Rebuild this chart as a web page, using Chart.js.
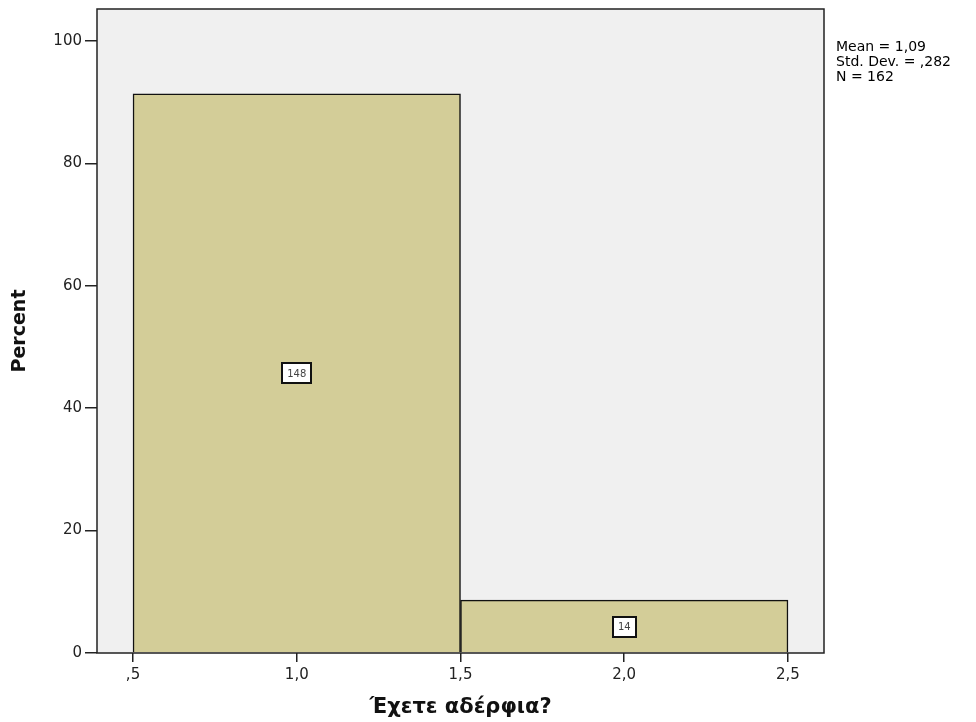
<!DOCTYPE html>
<html><head><meta charset="utf-8">
<script src="https://cdn.jsdelivr.net/npm/chart.js@4"></script>
<style>html,body{margin:0;padding:0;background:#fff}#wrap{width:976px;height:722px}</style>
</head><body><div id="wrap"><canvas id="c" width="976" height="722"></canvas></div>
<script>
const binCenters = [1.0, 2.0];
const binEdges = [0.5, 1.5, 2.5];
const counts = [148, 14];
const percents = [91.36, 8.64];
const xTicks = [0.5, 1.0, 1.5, 2.0, 2.5];
const yTicks = [0, 20, 40, 60, 80, 100];
const statsLines = ["Mean = 1,09", "Std. Dev. = ,282", "N = 162"];
const xTitle = "Έχετε αδέρφια?";
const yTitle = "Percent";

const FONT = '"DejaVu Sans", Verdana, sans-serif';
const X_MIN = 0.39, X_MAX = 2.61;

function fmt(v){
  let s = Number(v).toFixed(1).replace('.', ',');
  if (s.startsWith('0,')) s = s.slice(1);
  return s;
}

const frame = {
  id: 'frame',
  beforeDraw(chart){
    const {ctx, chartArea:a} = chart;
    ctx.save();
    ctx.fillStyle = '#f0f0f0';
    ctx.fillRect(a.left, a.top, a.right-a.left, a.bottom-a.top);
    ctx.restore();
  },
  afterDatasetsDraw(chart){
    const {ctx, chartArea:a, scales} = chart;
    ctx.save();
    ctx.strokeStyle = '#222'; ctx.lineWidth = 1.5;
    ctx.strokeRect(a.left, a.top, a.right-a.left, a.bottom-a.top);
    // count labels
    ctx.font = '10px ' + FONT;
    ctx.textAlign = 'center'; ctx.textBaseline = 'middle';
    binCenters.forEach((x,i)=>{
      const px = scales.x.getPixelForValue(x);
      const py = scales.y.getPixelForValue(percents[i]/2);
      const t = String(counts[i]);
      const w = Math.round(ctx.measureText(t).width + 10), h = 20;
      const bx = Math.round(px - w/2), by = Math.round(py - h/2);
      ctx.fillStyle = '#fff';
      ctx.fillRect(bx, by, w, h);
      ctx.strokeStyle = '#111'; ctx.lineWidth = 2;
      ctx.strokeRect(bx, by, w, h);
      ctx.fillStyle = '#444';
      ctx.fillText(t, px, py+1);
    });
    // stats
    ctx.font = '14px ' + FONT;
    ctx.textAlign = 'left'; ctx.textBaseline = 'middle'; ctx.fillStyle = '#000';
    statsLines.forEach((s,i)=> ctx.fillText(s, a.right + 12, 47 + i*15));
    ctx.restore();
  }
};

new Chart(document.getElementById('c'), {
  type: 'bar',
  data: {
    datasets: [{
      xAxisID: 'xb',
      data: binCenters.map((x,i)=>({x, y: percents[i]})),
      backgroundColor: '#d3cd98',
      borderColor: '#111',
      borderWidth: 1.5,
      barPercentage: 1.0,
      categoryPercentage: 1.0
    }]
  },
  options: {
    responsive: false,
    animation: false,
    layout: { padding: { left: 0, right: 152, top: 0, bottom: 0 } },
    plugins: { legend: { display: false }, tooltip: { enabled: false } },
    scales: {
      xb: {
        type: 'linear', position: 'bottom', display: false, min: X_MIN, max: X_MAX, offset: false,
        afterBuildTicks(s){ s.ticks = binEdges.map(v=>({value:v})); }
      },
      x: {
        type: 'linear', position: 'bottom', min: X_MIN, max: X_MAX, offset: false,
        afterBuildTicks(s){ s.ticks = xTicks.map(v=>({value:v})); },
        afterFit(s){ s.height = 69; },
        ticks: { callback: v => fmt(v), color: '#222', font: { size: 15, family: FONT }, padding: 4, maxRotation: 0, autoSkip: false },
        grid: { offset: false, drawOnChartArea: false, drawTicks: true, tickLength: 9, lineWidth: 1.5, color: '#222', tickColor: '#222' },
        border: { display: false },
        title: { display: true, text: xTitle, color: '#111', font: { size: 21, weight: 'bold', family: FONT }, padding: { top: 0, bottom: 2 } }
      },
      y: {
        min: 0, max: 105.2,
        afterBuildTicks(s){ s.ticks = yTicks.map(v=>({value:v})); },
        afterFit(s){ s.width = 97; },
        ticks: { color: '#222', font: { size: 15, family: FONT, lineHeight: 0.8 }, padding: 3 },
        grid: { drawOnChartArea: false, drawTicks: true, tickLength: 12, lineWidth: 1.5, color: '#222', tickColor: '#222' },
        border: { display: false },
        title: { display: true, text: yTitle, color: '#111', font: { size: 19, weight: 'bold', family: FONT }, padding: { top: 9, bottom: 0 } }
      }
    }
  },
  plugins: [frame]
});
</script></body></html>
